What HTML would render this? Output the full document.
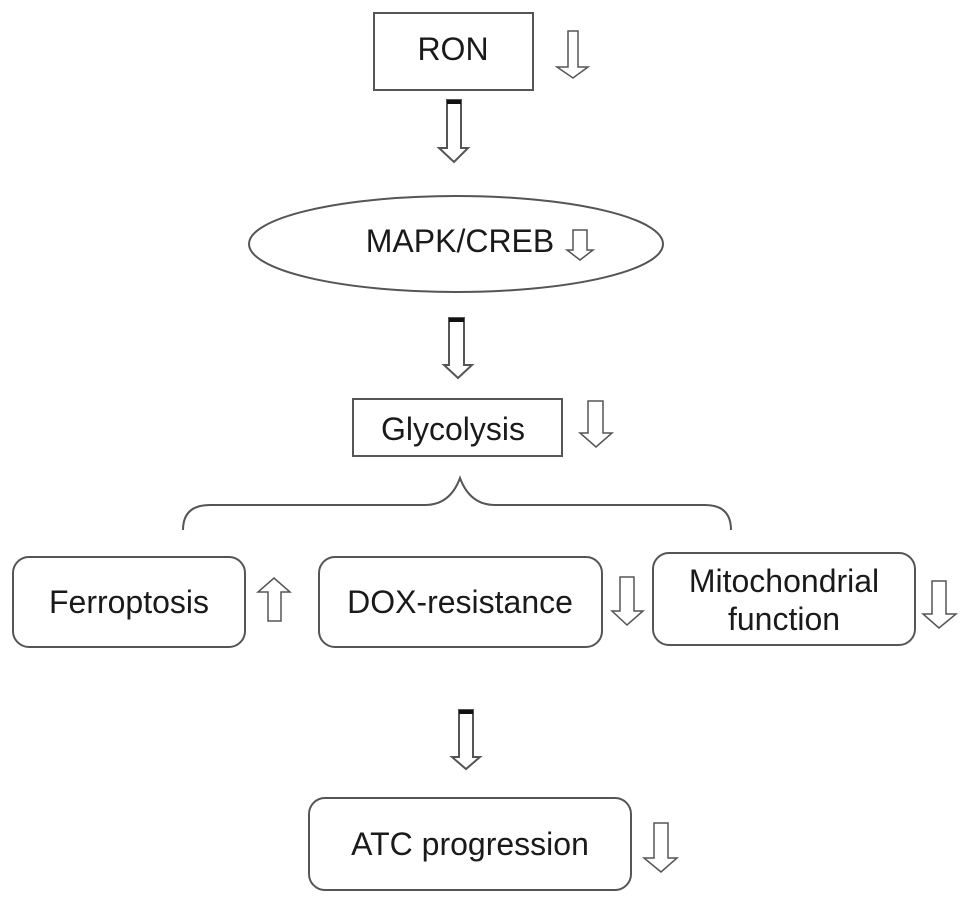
<!DOCTYPE html>
<html><head><meta charset="utf-8"><style>
html,body{margin:0;padding:0;background:#fff;}
svg{display:block;}
text{font-family:"Liberation Sans",Arial,sans-serif;font-size:32px;fill:#1a1a1a;}
</style></head><body>
<svg width="969" height="903" viewBox="0 0 969 903" xmlns="http://www.w3.org/2000/svg">
<g fill="#fff" stroke="#555" stroke-width="2">
<rect x="374" y="13" width="159" height="77"/>
<ellipse cx="456" cy="244" rx="207" ry="48"/>
<rect x="353" y="399" width="209" height="57"/>
<rect x="13" y="557" width="232" height="90" rx="16"/>
<rect x="319" y="557" width="283" height="90" rx="16"/>
<rect x="653" y="553" width="262" height="92" rx="16"/>
<rect x="309" y="798" width="322" height="92" rx="16"/>
<path d="M183 530 Q183 505 210 505 L425 505 Q450 505 460 478 Q470 505 495 505 L705 505 Q731 505 731 530" fill="none"/>
<!-- small arrows down: shaft xl,xr head hl,hr top, headstart, tip -->
<polygon points="568,31 578,31 578,67 588,67 573,78 557,67 568,67" stroke-width="1.5"/>
<polygon points="573,230 587,230 587,250 593,250 580,260 567,250 573,250" stroke-width="1.5"/>
<polygon points="588,401 603,401 603,433 612,433 596,447 580,433 588,433" stroke-width="1.5"/>
<polygon points="268,621 281,621 281,592 290,592 274,578 258,592 268,592" stroke-width="1.5"/>
<polygon points="620,577 634,577 634,611 643,611 627,625 612,611 620,611" stroke-width="1.5"/>
<polygon points="932,581 946,581 946,614 956,614 939,628 923,614 932,614" stroke-width="1.5"/>
<polygon points="654,823 668,823 668,858 677,858 661,872 644,858 654,858" stroke-width="1.5"/>
<!-- big arrows -->
<polygon points="447,100 461,100 461,148 468,148 454,162 439,148 447,148"/>
<polygon points="449,318 464,318 464,365 472,365 458,378 444,365 449,365"/>
<polygon points="459,710 473,710 473,757 480,757 466,769 452,757 459,757"/>
</g>
<g fill="#111">
<rect x="447" y="100" width="14" height="4"/>
<rect x="449" y="318" width="15" height="4"/>
<rect x="459" y="710" width="14" height="4"/>
</g>
<text x="453" y="60" text-anchor="middle">RON</text>
<text x="460" y="252" text-anchor="middle">MAPK/CREB</text>
<text x="453" y="440" text-anchor="middle">Glycolysis</text>
<text x="129" y="613" text-anchor="middle">Ferroptosis</text>
<text x="460" y="613" text-anchor="middle">DOX-resistance</text>
<text x="784" y="592" text-anchor="middle">Mitochondrial</text>
<text x="784" y="630" text-anchor="middle">function</text>
<text x="470" y="855" text-anchor="middle">ATC progression</text>
</svg>
</body></html>
